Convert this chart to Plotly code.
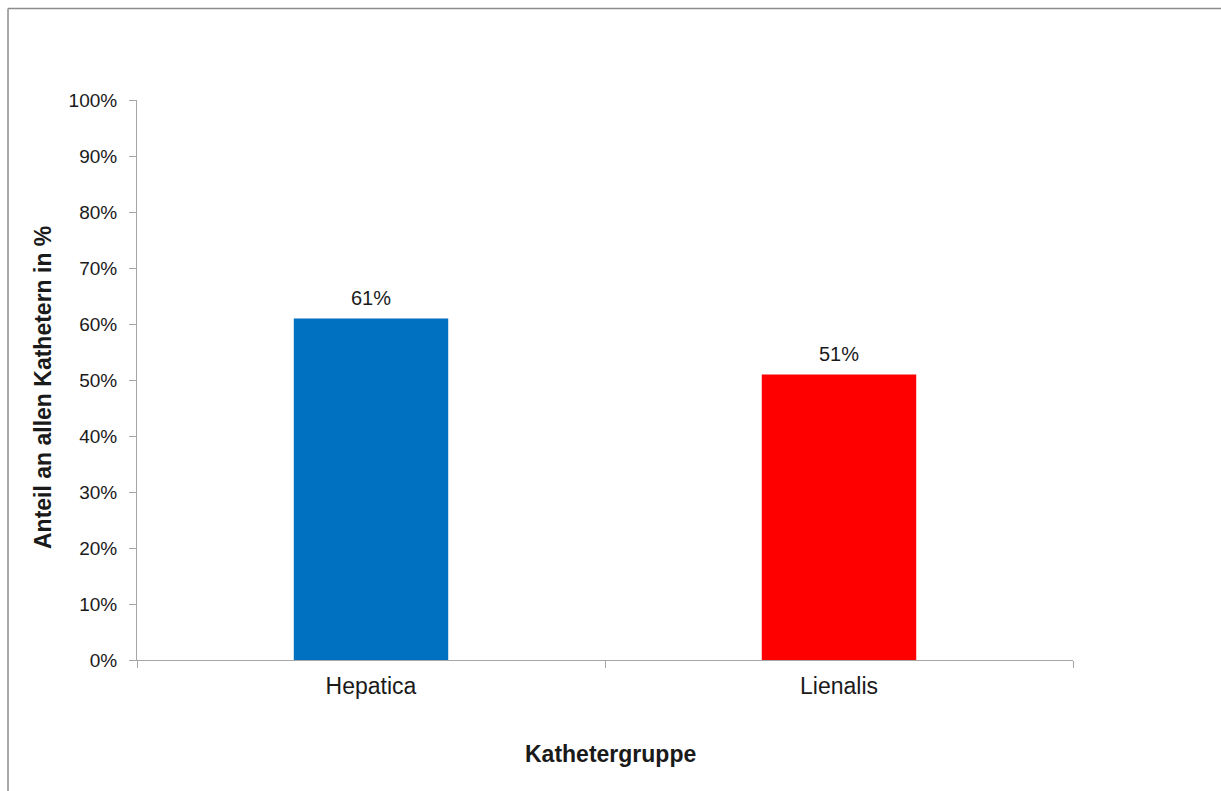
import plotly.graph_objects as go

categories = ["Hepatica", "Lienalis"]
shares = [61, 51]  # percent
bar_colors = ["#0070C0", "#FF0000"]
y_ticks = list(range(0, 101, 10))
y_tick_labels = [f"{v}%" for v in y_ticks]
x_title = "Kathetergruppe"
y_title = "Anteil an allen Kathetern in %"

FONT = "Liberation Sans, Arial, sans-serif"
AXIS_GRAY = "#A6A6A6"
TEXT = "#1a1a1a"

fig = go.Figure()
fig.add_trace(go.Bar(
    x=categories,
    y=shares,
    marker=dict(color=bar_colors, line=dict(width=0)),
    width=0.33,
    showlegend=False,
))

# value labels above each bar
for cat, val in zip(categories, shares):
    fig.add_annotation(
        x=cat, y=val, text=f"{val}%",
        showarrow=False, yanchor="bottom", yshift=7,
        font=dict(family=FONT, size=20, color=TEXT),
    )

# axis titles placed as free text
fig.add_annotation(
    xref="paper", yref="paper", x=0.5064, y=-0.168,
    text=f"<b>{x_title}</b>", showarrow=False,
    xanchor="center", yanchor="middle",
    font=dict(family=FONT, size=23, color=TEXT),
)
fig.add_annotation(
    xref="paper", yref="paper", x=-0.1004, y=0.4857,
    text=f"<b>{y_title}</b>", showarrow=False, textangle=-90,
    xanchor="center", yanchor="middle",
    font=dict(family=FONT, size=23, color=TEXT),
)

fig.update_layout(
    width=1221, height=791,
    margin=dict(l=137, r=148, t=100, b=131),
    paper_bgcolor="white", plot_bgcolor="white",
    font=dict(family=FONT, color=TEXT),
    xaxis=dict(
        type="category",
        range=[-0.5, 1.5],
        tickson="boundaries",
        ticks="outside", ticklen=7, tickcolor=AXIS_GRAY, tickwidth=1,
        showline=True, linecolor=AXIS_GRAY, linewidth=1,
        showgrid=False, zeroline=False,
        tickfont=dict(size=23),
        ticklabelstandoff=5,
    ),
    yaxis=dict(
        range=[0, 100],
        tickvals=y_ticks, ticktext=y_tick_labels,
        ticks="outside", ticklen=7, tickcolor=AXIS_GRAY, tickwidth=1,
        showline=True, linecolor=AXIS_GRAY, linewidth=1,
        showgrid=False, zeroline=False,
        tickfont=dict(size=19),
        ticklabelstandoff=8,
    ),
    shapes=[
        # chart frame (left and top edges visible)
        dict(type="line", xref="paper", yref="paper",
             x0=-0.1378, x1=1.3, y0=1.1634, y1=1.1634,
             line=dict(color="#8C8C8C", width=1.5)),
        dict(type="line", xref="paper", yref="paper",
             x0=-0.1378, x1=-0.1378, y0=-0.3, y1=1.1634,
             line=dict(color="#8C8C8C", width=1.5)),
    ],
)

fig.write_html("out.html")
